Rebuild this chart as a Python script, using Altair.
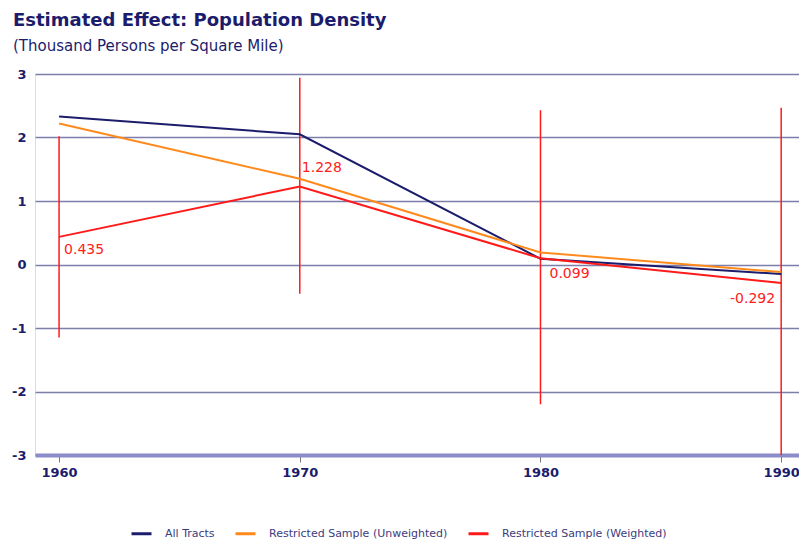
import altair as alt
import pandas as pd

years = [1960, 1970, 1980, 1990]
series_names = ["All Tracts", "Restricted Sample (Unweighted)", "Restricted Sample (Weighted)"]
all_tracts = [2.33, 2.05, 0.09, -0.15]
unweighted = [2.22, 1.35, 0.19, -0.12]
weighted = [0.435, 1.228, 0.099, -0.292]
ci_low = [-1.15, -0.46, -2.20, -3.05]
ci_high = [2.02, 2.94, 2.43, 2.47]
label_text = ["0.435", "1.228", "0.099", "-0.292"]
series_colors = ["#1c1c6c", "#ff8a1c", "#ff1a1a"]

rows = []
for name, vals in zip(series_names, [all_tracts, unweighted, weighted]):
    for y, v in zip(years, vals):
        rows.append({"year": y, "series": name, "value": v})
lines_df = pd.DataFrame(rows)
ci_df = pd.DataFrame({"year": years, "lo": ci_low, "hi": ci_high, "value": weighted, "label": label_text})

FONT = "DejaVu Sans"
NAVY = "#1c1c6c"
RED = "#ff2020"

x_scale = alt.Scale(domain=[1959, 1990.74], nice=False, zero=False)
y_scale = alt.Scale(domain=[-3, 3], nice=False)

x_enc = alt.X("year:Q", scale=x_scale, title=None,
              axis=alt.Axis(values=years, format="d", grid=False, domain=True,
                            domainColor="#8c8cc8", domainWidth=4,
                            ticks=True, tickColor="#777777", tickSize=7, tickWidth=1,
                            labelFont=FONT, labelFontSize=13, labelFontWeight="bold",
                            labelColor=NAVY, labelPadding=4, labelBound=False, labelFlush=False))
y_enc = alt.Y("value:Q", scale=y_scale, title=None,
              axis=alt.Axis(values=[-3, -2, -1, 0, 1, 2, 3], labelExpr="'' + datum.value",
                            grid=True, gridColor="#7e7eaa", gridWidth=1.5, gridOpacity=1,
                            domain=False, ticks=False,
                            labelFont=FONT, labelFontSize=13, labelFontWeight="bold",
                            labelColor=NAVY, labelPadding=9))

rules = alt.Chart(ci_df).mark_rule(color="#ff1a1a", strokeWidth=1.5, clip=True).encode(
    x=alt.X("year:Q", scale=x_scale), y=alt.Y("lo:Q", scale=y_scale), y2="hi:Q")

lines = alt.Chart(lines_df).mark_line(strokeWidth=2).encode(
    x=x_enc, y=y_enc,
    color=alt.Color("series:N", scale=alt.Scale(domain=series_names, range=series_colors),
                    legend=alt.Legend(title=None, orient="none", direction="horizontal",
                                      legendX=95, legendY=448, symbolType="stroke",
                                      symbolStrokeWidth=3, symbolSize=400,
                                      labelFont=FONT, labelFontSize=11, labelColor="#3c3c80",
                                      labelLimit=400, labelOffset=12, columnPadding=14)),
    order=alt.Order("series:N"))

def lab(yr, align, dx, dy):
    return alt.Chart(ci_df).transform_filter(alt.datum.year == yr).mark_text(
        align=align, baseline="middle", dx=dx, dy=dy, font=FONT, fontSize=14, color=RED
    ).encode(x=alt.X("year:Q", scale=x_scale), y=alt.Y("value:Q", scale=y_scale), text="label:N")

labels = lab(1960, "left", 5, 13) + lab(1970, "left", 2, -19) + lab(1980, "left", 9, 16) + lab(1990, "right", -6, 16)

chart = alt.layer(rules, lines, labels).properties(
    width=764, height=381,
    autosize=alt.AutoSizeParams(type="none"),
    padding={"left": 27, "top": 66, "right": 0, "bottom": 85},
    title=alt.TitleParams(
        text="Estimated Effect: Population Density",
        subtitle="(Thousand Persons per Square Mile)",
        anchor="start", frame="group", dx=-22, offset=14,
        font=FONT, fontSize=18, fontWeight="bold", color=NAVY,
        subtitleFont=FONT, subtitleFontSize=15, subtitleColor=NAVY, subtitlePadding=9),
).configure_view(stroke=None).configure(background="white")

chart.save("out.html", embed_options={"renderer": "svg", "actions": False})
